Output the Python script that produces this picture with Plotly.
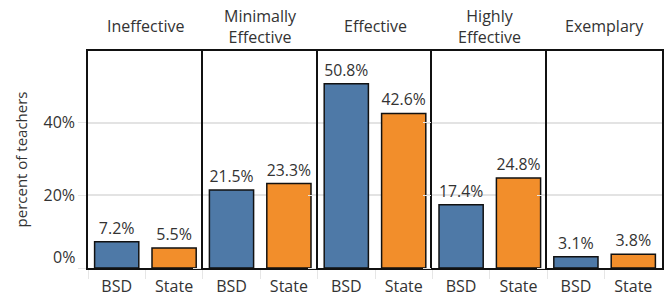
import plotly.graph_objects as go
from plotly.subplots import make_subplots

ratings = ["Ineffective", "Minimally<br>Effective", "Effective", "Highly<br>Effective", "Exemplary"]
groups = ["BSD", "State"]
bsd_values = [7.2, 21.5, 50.8, 17.4, 3.1]
state_values = [5.5, 23.3, 42.6, 24.8, 3.8]
ytick_vals = [0, 20, 40, 60]
ytick_text = ["", "20%", "40%", ""]

colors = {"BSD": "#4e79a7", "State": "#f28e2b"}
FONT = "Open Sans"
TXT = "#333333"
LINE = "#111111"

fig = make_subplots(rows=1, cols=5, shared_yaxes=True, horizontal_spacing=0)

for i, r in enumerate(ratings):
    vals = [bsd_values[i], state_values[i]]
    fig.add_trace(go.Bar(
        x=groups, y=vals,
        marker=dict(color=[colors[g] for g in groups], line=dict(color=LINE, width=1.5)),
        text=[f"{v:.1f}%" for v in vals], textposition="outside",
        textfont=dict(size=16, color=TXT, family=FONT),
        cliponaxis=False, showlegend=False, width=0.77, hoverinfo="skip",
    ), row=1, col=i + 1)
    fig.update_xaxes(
        showline=True, linecolor=LINE, linewidth=1.5, mirror=True,
        ticks="outside", tickson="boundaries", ticklen=9, tickcolor="#e6e6e6",
        ticklabelstandoff=3,
        tickfont=dict(size=16, color=TXT, family=FONT), automargin=False,
        row=1, col=i + 1)
    fig.update_yaxes(showline=True, linecolor=LINE, linewidth=1.5,
                     mirror=(i == len(ratings) - 1), row=1, col=i + 1)
    xdom = fig.layout[f"xaxis{'' if i == 0 else i + 1}"].domain
    fig.add_annotation(
        text=r, xref="paper", yref="paper", x=(xdom[0] + xdom[1]) / 2, y=1,
        xanchor="center", yanchor="middle", yshift=25, showarrow=False,
        font=dict(size=16, color=TXT, family=FONT))

fig.update_yaxes(
    range=[0, 59.8], tickvals=ytick_vals, ticktext=ytick_text,
    showgrid=True, gridcolor="#e3e3e3", gridwidth=1.5, zeroline=False,
    ticks="outside", ticklen=8, tickcolor="#e6e6e6",
    tickfont=dict(size=16, color=TXT, family=FONT))
fig.update_yaxes(title=dict(text="percent of teachers", font=dict(size=15, color=TXT, family=FONT), standoff=12), row=1, col=1)

# 0% label sits just above the baseline
fig.add_annotation(text="0%", xref="paper", yref="y", x=0, y=0, xanchor="right",
                   yanchor="middle", xshift=-11, yshift=11, showarrow=False,
                   font=dict(size=16, color=TXT, family=FONT))

fig.update_layout(
    width=668, height=297, margin=dict(l=88, r=4, t=51, b=29),
    plot_bgcolor="white", paper_bgcolor="white", bargap=0.23,
    font=dict(family=FONT, color=TXT), hovermode=False,
)
fig.write_html("out.html", config={"displayModeBar": False},
               post_script="document.body.style.margin='0';document.body.style.overflow='hidden';")
